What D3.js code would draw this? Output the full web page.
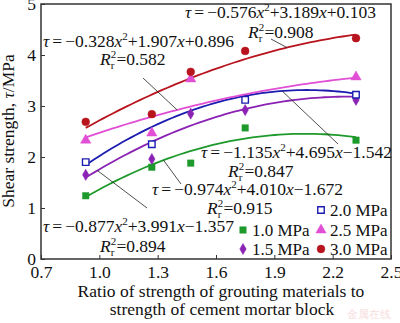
<!DOCTYPE html>
<html><head><meta charset="utf-8">
<script src="https://cdn.jsdelivr.net/npm/d3@7"></script>
<style>
body{margin:0;background:#fff}
svg{display:block}
svg text{font-family:'Liberation Serif','Times New Roman','DejaVu Serif',serif !important;fill:#111}
</style>
</head><body><div id="chart"></div>
<script>
var width = 400;
var height = 323;

// data
var ratio = [0.93, 1.27, 1.47, 1.75, 2.32];
var s10 = [1.24, 1.80, 1.88, 2.57, 2.33];
var s15 = [1.65, 1.96, 2.85, 2.92, 3.12];
var s20 = [1.90, 2.25, null, 3.12, 3.22];
var s25 = [2.33, 2.47, 3.53, null, 3.57];
var s30 = [2.69, 2.84, 3.67, 4.08, 4.33];
var seriesNames = ["1.0 MPa", "1.5 MPa", "2.0 MPa", "2.5 MPa", "3.0 MPa"];
// fitted curves tau = a x^2 + b x + c
var coefA = [-0.974, -0.877, -1.135, -0.328, -0.576];
var coefB = [4.010, 3.991, 4.695, 1.907, 3.189];
var coefC = [-1.672, -1.357, -1.542, 0.896, 0.103];
var r2 = ["0.915", "0.894", "0.847", "0.582", "0.908"];
var xTicks = [0.7, 1.0, 1.3, 1.6, 1.9, 2.2, 2.5];
var yTicks = [0, 1, 2, 3, 4, 5];

var allSeries = [s10, s15, s20, s25, s30];
var colors = ["#1e9a2c", "#8a22b4", "#1c1cb0", "#e04fd4", "#b8141e"];
var symbols = [d3.symbolSquare, d3.symbolDiamond, d3.symbolSquare, d3.symbolTriangle, d3.symbolCircle];
var symSize = [42, 36, 42, 46, 48];
var hollow = [false, false, true, false, false];
var serif = "'Liberation Serif','Times New Roman','DejaVu Serif',serif";

var svg = d3.select("#chart").append("svg")
    .attr("width", width).attr("height", height)
    .attr("font-family", serif);

var x = d3.scaleLinear().domain([0.7, 2.5]).range([41, 391]);
var y = d3.scaleLinear().domain([0, 5]).range([259, 4]);

// axes with inward ticks
svg.append("g")
    .attr("transform", "translate(0,259)")
    .call(d3.axisBottom(x).tickValues(xTicks).tickSize(-4).tickPadding(7)
        .tickFormat(d3.format(".1f")))
    .call(function(g){
        g.attr("font-family", serif);
        g.select(".domain").remove();
        g.selectAll("line").attr("stroke", "#333");
        g.selectAll("text").attr("font-size", 17.5).attr("fill", "#111");
    });

svg.append("g")
    .attr("transform", "translate(41,0)")
    .call(d3.axisLeft(y).tickValues(yTicks).tickSize(-4).tickPadding(5)
        .tickFormat(d3.format("d")))
    .call(function(g){
        g.attr("font-family", serif);
        g.select(".domain").remove();
        g.selectAll("line").attr("stroke", "#333");
        g.selectAll("text").attr("font-size", 17.5).attr("fill", "#111");
    });

svg.append("rect")
    .attr("x", 41).attr("y", 4).attr("width", 350).attr("height", 255)
    .attr("fill", "none").attr("stroke", "#333").attr("stroke-width", 1.5);

// fitted curves
var line = d3.line().x(function(d){ return x(d[0]); }).y(function(d){ return y(d[1]); });
allSeries.forEach(function(s, i){
    var pts = d3.range(0, 61).map(function(k){
        var xv = ratio[0] + (ratio[ratio.length - 1] - ratio[0]) * k / 60;
        return [xv, coefA[i] * xv * xv + coefB[i] * xv + coefC[i]];
    });
    svg.append("path").attr("d", line(pts))
        .attr("fill", "none").attr("stroke", colors[i]).attr("stroke-width", 1.8);
});

// points
allSeries.forEach(function(s, i){
    svg.selectAll(".pt" + i)
        .data(s.map(function(v, k){ return [ratio[k], v]; }).filter(function(d){ return d[1] != null; }))
        .enter().append("path")
        .attr("class", "pt" + i)
        .attr("transform", function(d){ return "translate(" + x(d[0]) + "," + y(d[1]) + ")"; })
        .attr("d", d3.symbol().type(symbols[i]).size(symSize[i]))
        .attr("fill", hollow[i] ? "#fff" : colors[i])
        .attr("stroke", colors[i])
        .attr("stroke-width", hollow[i] ? 1.4 : 0.5);
});

// equation labels (layout)
var eqPos = [[152, 195], [43, 47], [201, 158], [43, 47], [185, 18]];
eqPos[1] = [43, 232];
var r2Pos = [[207, 214], [100, 252], [228, 177], [100, 65], [248, 38]];
var leadX = [1.33, 0.99, 1.94, 1.40, 1.965];
var leadEnd = [[181, 184], [147, 208], [338, 144], [143, 78], [271, 39]];

function num(v){ return (v < 0 ? "\u2212" : "+") + Math.abs(v).toFixed(3); }

allSeries.forEach(function(s, i){
    var t = svg.append("text").attr("x", eqPos[i][0]).attr("y", eqPos[i][1]).attr("font-size", 17.5);
    t.append("tspan").attr("font-style", "italic").text("\u03c4");
    t.append("tspan").attr("dx", 3).text("=");
    t.append("tspan").attr("dx", 3).text(num(coefA[i]));
    t.append("tspan").attr("font-style", "italic").text("x");
    t.append("tspan").attr("font-size", 11).attr("dy", -7).text("2");
    t.append("tspan").attr("dy", 7).text(num(coefB[i]));
    t.append("tspan").attr("font-style", "italic").text("x");
    t.append("tspan").text(num(coefC[i]));

    var r = svg.append("text").attr("x", r2Pos[i][0]).attr("y", r2Pos[i][1]).attr("font-size", 17.5);
    r.append("tspan").attr("font-style", "italic").text("R");
    r.append("tspan").attr("font-size", 11).attr("dy", -7).text("2");
    r.append("tspan").attr("font-size", 11).attr("dx", -5.5).attr("dy", 11).text("r");
    r.append("tspan").attr("dx", 2).attr("dy", -4).text("=" + r2[i]);

    svg.append("line")
        .attr("x1", x(leadX[i]))
        .attr("y1", y(coefA[i] * leadX[i] * leadX[i] + coefB[i] * leadX[i] + coefC[i]))
        .attr("x2", leadEnd[i][0]).attr("y2", leadEnd[i][1])
        .attr("stroke", "#222").attr("stroke-width", 0.8);
});

// legend
var legPos = [[243, 230], [243, 249], [321, 210], [321, 230], [321, 249]];
seriesNames.forEach(function(n, i){
    svg.append("path")
        .attr("transform", "translate(" + legPos[i][0] + "," + legPos[i][1] + ")")
        .attr("d", d3.symbol().type(symbols[i]).size(symSize[i]))
        .attr("fill", hollow[i] ? "#fff" : colors[i])
        .attr("stroke", colors[i])
        .attr("stroke-width", hollow[i] ? 1.4 : 0.5);
    svg.append("text")
        .attr("x", legPos[i][0] + 9).attr("y", legPos[i][1] + 6)
        .attr("font-size", 17).text(n);
});

// axis titles
var yl = svg.append("text")
    .attr("transform", "translate(14,131) rotate(-90)")
    .attr("text-anchor", "middle").attr("font-size", 17.5);
yl.append("tspan").text("Shear strength, ");
yl.append("tspan").attr("font-style", "italic").text("\u03c4");
yl.append("tspan").text("/MPa");

svg.append("text").attr("x", 221).attr("y", 297).attr("text-anchor", "middle")
    .attr("font-size", 17.5).text("Ratio of strength of grouting materials to");
svg.append("text").attr("x", 222).attr("y", 315).attr("text-anchor", "middle")
    .attr("font-size", 17.5).text("strength of cement mortar block");

// faint watermark
svg.append("text").attr("x", 347).attr("y", 318)
    .attr("font-size", 11)
    .style("font-family", "'Noto Sans CJK SC',sans-serif")
    .style("fill", "#f7dede").text("金属在线");
</script>
</body></html>
